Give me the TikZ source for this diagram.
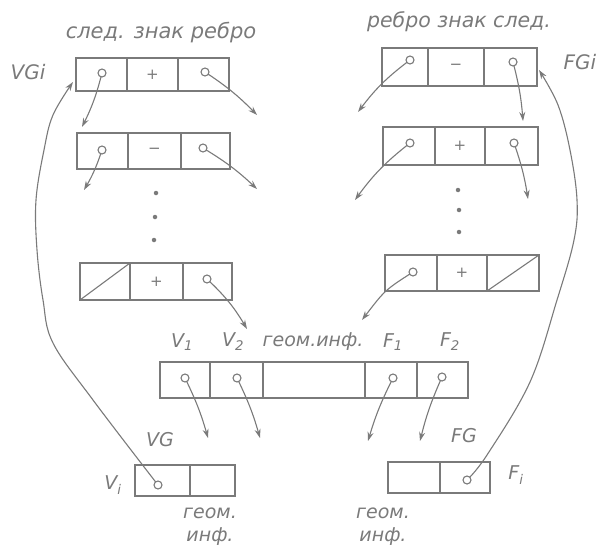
\documentclass[tikz,border=0pt]{standalone}
\usepackage{fontspec}
\setmainfont{DejaVu Sans}
\usetikzlibrary{arrows.meta}
\definecolor{ink}{gray}{0.48}
\tikzset{
 cell/.style={draw=ink, line width=1.2pt, inner sep=0pt, outer sep=0pt, font=\fontsize{15}{15}\selectfont, text=ink},
 dotc/.style={circle, draw=ink, fill=white, line width=1.1pt, minimum size=8pt, inner sep=0pt},
 ell/.style={circle, fill=ink, minimum size=4.5pt, inner sep=0pt},
 arr/.style={draw=ink, line width=1.1pt, -{Stealth[length=9pt,width=6pt]}},
 lbl/.style={text=ink, font=\fontsize{19}{19}\selectfont\itshape, inner sep=0pt},
 slash/.style={draw=ink, line width=1.1pt}
}
\newcommand{\mkcell}[6]{\node[cell,minimum width={#4-#2},minimum height={#5-#3}] (#1) at ({(#2+#4)/2},{(#3+#5)/2}) {#6};}
\begin{document}
\begin{tikzpicture}[x=1pt,y=-1pt]
\useasboundingbox (0,0) rectangle (607,551);
% ---------- left stack ----------
\mkcell{L1a}{76}{58}{127}{91}{}
\mkcell{L1b}{127}{58}{178}{91}{+}
\mkcell{L1c}{178}{58}{229}{91}{}
\mkcell{L2a}{77}{133}{128}{169}{}
\mkcell{L2b}{128}{133}{181}{169}{−}
\mkcell{L2c}{181}{133}{230}{169}{}
\mkcell{L3a}{80}{263}{130}{300}{}
\mkcell{L3b}{130}{263}{183}{300}{+}
\mkcell{L3c}{183}{263}{232}{300}{}
\draw[slash] (L3a.south west) -- (L3a.north east);
% ---------- right stack ----------
\mkcell{R1a}{382}{48}{428}{86}{}
\mkcell{R1b}{428}{48}{484}{86}{−}
\mkcell{R1c}{484}{48}{537}{86}{}
\mkcell{R2a}{383}{127}{435}{165}{}
\mkcell{R2b}{435}{127}{485}{165}{+}
\mkcell{R2c}{485}{127}{538}{165}{}
\mkcell{R3a}{385}{255}{437}{291}{}
\mkcell{R3b}{437}{255}{487}{291}{+}
\mkcell{R3c}{487}{255}{539}{291}{}
\draw[slash] (R3c.south west) -- (R3c.north east);
% ---------- middle record ----------
\mkcell{MV1}{160}{362}{210}{398}{}
\mkcell{MV2}{210}{362}{263}{398}{}
\mkcell{MG}{263}{362}{365}{398}{}
\mkcell{MF1}{365}{362}{417}{398}{}
\mkcell{MF2}{417}{362}{468}{398}{}
% ---------- bottom records ----------
\mkcell{BLa}{135}{465}{190}{496}{}
\mkcell{BLb}{190}{465}{235}{496}{}
\mkcell{BRa}{388}{462}{440}{493}{}
\mkcell{BRb}{440}{462}{490}{493}{}
% ---------- free arrow ends ----------
\coordinate (eL1a) at (82,127);
\coordinate (eL1c) at (257,115);
\coordinate (eL2a) at (84,190);
\coordinate (eL2c) at (257,189);
\coordinate (eL3c) at (247,329);
\coordinate (eR1a) at (358,112);
\coordinate (eR1c) at (523,121);
\coordinate (eR2a) at (355,200);
\coordinate (eR2c) at (528,199);
\coordinate (eR3a) at (362,320);
\coordinate (eV1) at (208,438);
\coordinate (eV2) at (260,438);
\coordinate (eF1) at (368,441);
\coordinate (eF2) at (420,441);
\coordinate (eVG) at (73,82);
\coordinate (eFG) at (539,70);
% ---------- pointer arrows ----------
\draw[arr] (102,73) to[bend left=6] (eL1a);
\draw[arr] (205,72) to[bend left=6] (eL1c);
\draw[arr] (102,150) to[bend left=6] (eL2a);
\draw[arr] (203,148) to[bend left=6] (eL2c);
\draw[arr] (207,279) to[bend left=8] (eL3c);
\draw[arr] (410,60) to[bend right=8] (eR1a);
\draw[arr] (513,62) to[bend left=5] (eR1c);
\draw[arr] (410,143) to[bend right=8] (eR2a);
\draw[arr] (514,143) to[bend left=5] (eR2c);
\draw[arr] (413,272) .. controls (385,290) .. (eR3a);
\draw[arr] (185,378) to[bend left=5] (eV1);
\draw[arr] (237,378) to[bend left=5] (eV2);
\draw[arr] (393,378) to[bend right=5] (eF1);
\draw[arr] (442,377) to[bend right=5] (eF2);
\draw[arr] plot[smooth, tension=0.6] coordinates {(158,485) (93,400) (53,343) (43,300) (37,250) (36,200) (44,150) (53,115) (eVG)};
\draw[arr] plot[smooth, tension=0.6] coordinates {(467,480) (487,455) (530,382) (557,300) (574,240) (577,200) (570,150) (558,105) (eFG)};
% ---------- pointer dots ----------
\node[dotc] (dL1a) at (102,73) {};
\node[dotc] (dL1c) at (205,72) {};
\node[dotc] (dL2a) at (102,150) {};
\node[dotc] (dL2c) at (203,148) {};
\node[dotc] (dL3c) at (207,279) {};
\node[dotc] (dR1a) at (410,60) {};
\node[dotc] (dR1c) at (513,62) {};
\node[dotc] (dR2a) at (410,143) {};
\node[dotc] (dR2c) at (514,143) {};
\node[dotc] (dR3a) at (413,272) {};
\node[dotc] (dV1) at (185,378) {};
\node[dotc] (dV2) at (237,378) {};
\node[dotc] (dF1) at (393,378) {};
\node[dotc] (dF2) at (442,377) {};
\node[dotc] (dBL) at (158,485) {};
\node[dotc] (dBR) at (467,480) {};
% ---------- ellipsis ----------
\node[ell] (el1) at (156,193) {};
\node[ell] (el2) at (155,217) {};
\node[ell] (el3) at (154,240) {};
\node[ell] (er1) at (458,190) {};
\node[ell] (er2) at (459,210) {};
\node[ell] (er3) at (459,232) {};
% ---------- labels ----------
\node[lbl, font=\fontsize{21}{21}\selectfont\itshape] (tL) at (161,33) {след. знак ребро};
\node[lbl, font=\fontsize{20.5}{21}\selectfont\itshape] (tR) at (459,22) {ребро знак след.};
\node[lbl, font=\fontsize{20}{20}\selectfont\itshape] (tVGi) at (28,72) {VGi};
\node[lbl, font=\fontsize{20}{20}\selectfont\itshape] (tFGi) at (580,62) {FGi};
\node[lbl] (tV1) at (182,342) {V\textsubscript{1}};
\node[lbl] (tV2) at (233,342) {V\textsubscript{2}};
\node[lbl] (tG) at (313,342) {геом.инф.};
\node[lbl] (tF1) at (393,342) {F\textsubscript{1}};
\node[lbl] (tF2) at (450,342) {F\textsubscript{2}};
\node[lbl] (tVG) at (160,440) {VG};
\node[lbl] (tVi) at (113,485) {V\textsubscript{i}};
\node[lbl, align=center] (tBLg) at (210,527) {геом.\\[4pt]инф.};
\node[lbl] (tFG) at (464,436) {FG};
\node[lbl] (tFi) at (516,475) {F\textsubscript{i}};
\node[lbl, align=center] (tBRg) at (383,527) {геом.\\[4pt]инф.};
\end{tikzpicture}
\end{document}
